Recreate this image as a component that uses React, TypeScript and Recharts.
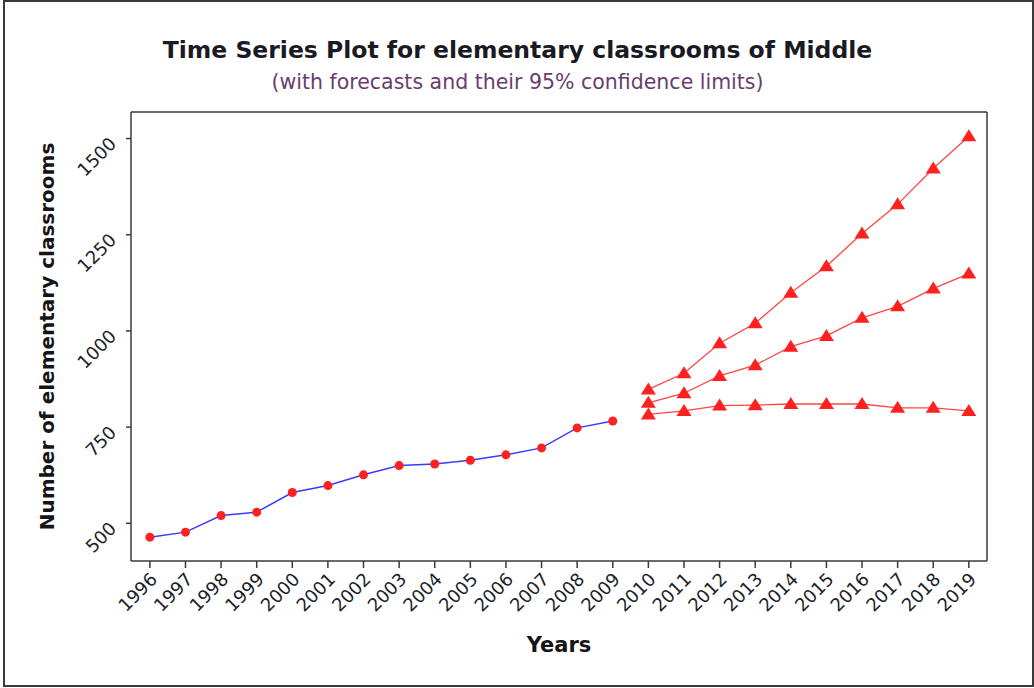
import React from 'react';
import { LineChart, Line, XAxis, YAxis, ReferenceLine } from 'recharts';

// observed classroom counts
const actualYears = [1996, 1997, 1998, 1999, 2000, 2001, 2002, 2003, 2004, 2005, 2006, 2007, 2008, 2009];
const actualClassrooms = [464, 477, 520, 529, 580, 598, 626, 650, 654, 664, 678, 696, 748, 766];

// forecasts with their 95% limits
const forecastYears = [2010, 2011, 2012, 2013, 2014, 2015, 2016, 2017, 2018, 2019];
const upperLimit = [848, 890, 968, 1020, 1099, 1168, 1253, 1329, 1422, 1506];
const forecast = [813, 838, 883, 911, 959, 987, 1034, 1064, 1110, 1149];
const lowerLimit = [783, 792, 806, 807, 810, 810, 810, 800, 800, 792];

const yearTicks = [...actualYears, ...forecastYears];
const yTicks = [500, 750, 1000, 1250, 1500];

const FONT = "'DejaVu Sans', Verdana, sans-serif";
const FRAME = '#3a3a3a';
const RED = '#ff2020';

const data = [
  ...actualYears.map((year, i) => ({ year, actual: actualClassrooms[i] })),
  ...forecastYears.map((year, i) => ({
    year,
    upper: upperLimit[i],
    forecast: forecast[i],
    lower: lowerLimit[i],
  })),
];

const RoundDot = ({ cx, cy }: any) =>
  cx == null || cy == null ? null : <circle cx={cx} cy={cy} r={4.5} fill={RED} stroke="none" />;

const TriangleDot = ({ cx, cy }: any) =>
  cx == null || cy == null ? null : (
    <polygon points={`${cx},${cy - 7} ${cx - 7.5},${cy + 5} ${cx + 7.5},${cy + 5}`} fill={RED} stroke="none" />
  );

const XTick = ({ x, y, payload }: any) => (
  <text
    x={x + 4}
    y={y + 6}
    transform={`rotate(-45, ${x + 4}, ${y + 6})`}
    textAnchor="end"
    dy="0.35em"
    fontSize={18}
    fontFamily={FONT}
    fill="#1e1e2a"
  >
    {payload.value}
  </text>
);

const YTick = ({ x, y, payload }: any) => (
  <text
    x={x - 11}
    y={y + 2}
    transform={`rotate(-45, ${x - 11}, ${y + 2})`}
    textAnchor="end"
    dy="0.35em"
    fontSize={18}
    fontFamily={FONT}
    fill="#1e1e2a"
  >
    {payload.value}
  </text>
);

const YLabel = ({ viewBox }: any) => {
  const x = 47;
  const y = viewBox.y + viewBox.height / 2;
  return (
    <text
      x={x}
      y={y}
      transform={`rotate(-90, ${x}, ${y})`}
      textAnchor="middle"
      dominantBaseline="central"
      fontSize={20}
      fontWeight="bold"
      fontFamily={FONT}
      fill="#151515"
    >
      Number of elementary classrooms
    </text>
  );
};

const XLabel = ({ viewBox }: any) => (
  <text
    x={viewBox.x + viewBox.width / 2}
    y={645}
    textAnchor="middle"
    dominantBaseline="central"
    fontSize={21}
    fontWeight="bold"
    fontFamily={FONT}
    fill="#151515"
  >
    Years
  </text>
);

export default function App() {
  const xDomain = [1995.47, 2019.51];
  const yDomain = [402, 1569];
  return (
    <div style={{ position: 'absolute', left: 0, top: 0, width: 1034, height: 688, background: '#fff', fontFamily: FONT }}>
      <div
        style={{
          position: 'absolute',
          left: 3,
          top: 0,
          width: 1031,
          height: 687,
          border: `2px solid ${FRAME}`,
          boxSizing: 'border-box',
        }}
      />
      <div
        style={{
          position: 'absolute',
          left: 0,
          top: 37,
          width: 1035,
          textAlign: 'center',
          fontSize: 23.5,
          lineHeight: '26px',
          fontWeight: 'bold',
          color: '#1a1a24',
        }}
      >
        Time Series Plot for elementary classrooms of Middle
      </div>
      <div
        style={{
          position: 'absolute',
          left: 0,
          top: 70,
          width: 1035,
          textAlign: 'center',
          fontSize: 20.5,
          lineHeight: '24px',
          color: '#6a3d6e',
        }}
      >
        (with forecasts and their 95% confidence limits)
      </div>
      <LineChart
        width={1034}
        height={688}
        data={data}
        margin={{ top: 112, right: 47, left: 0, bottom: 0 }}
        style={{ position: 'absolute', left: 0, top: 0 }}
      >
        <XAxis
          dataKey="year"
          type="number"
          domain={xDomain}
          ticks={yearTicks}
          interval={0}
          height={127}
          tickSize={7}
          tickMargin={2}
          tick={<XTick />}
          tickLine={{ stroke: FRAME, strokeWidth: 1.5 }}
          axisLine={{ stroke: FRAME, strokeWidth: 1.5 }}
          label={<XLabel />}
          allowDataOverflow
        />
        <YAxis
          type="number"
          domain={yDomain}
          ticks={yTicks}
          interval={0}
          width={131}
          tickSize={5}
          tickMargin={2}
          tick={<YTick />}
          tickLine={{ stroke: FRAME, strokeWidth: 1.5 }}
          axisLine={{ stroke: FRAME, strokeWidth: 1.5 }}
          label={<YLabel />}
          allowDataOverflow
        />
        {/* top and right edges of the plot frame */}
        <ReferenceLine y={yDomain[1]} stroke={FRAME} strokeWidth={1.5} ifOverflow="visible" />
        <ReferenceLine x={xDomain[1]} stroke={FRAME} strokeWidth={1.5} ifOverflow="visible" />
        <Line
          dataKey="actual"
          stroke="#3b3bff"
          strokeWidth={1.5}
          dot={<RoundDot />}
          activeDot={false}
          isAnimationActive={false}
        />
        <Line
          dataKey="upper"
          stroke="#ff4545"
          strokeWidth={1.3}
          dot={<TriangleDot />}
          activeDot={false}
          isAnimationActive={false}
        />
        <Line
          dataKey="forecast"
          stroke="#ff4545"
          strokeWidth={1.3}
          dot={<TriangleDot />}
          activeDot={false}
          isAnimationActive={false}
        />
        <Line
          dataKey="lower"
          stroke="#ff4545"
          strokeWidth={1.3}
          dot={<TriangleDot />}
          activeDot={false}
          isAnimationActive={false}
        />
      </LineChart>
    </div>
  );
}
